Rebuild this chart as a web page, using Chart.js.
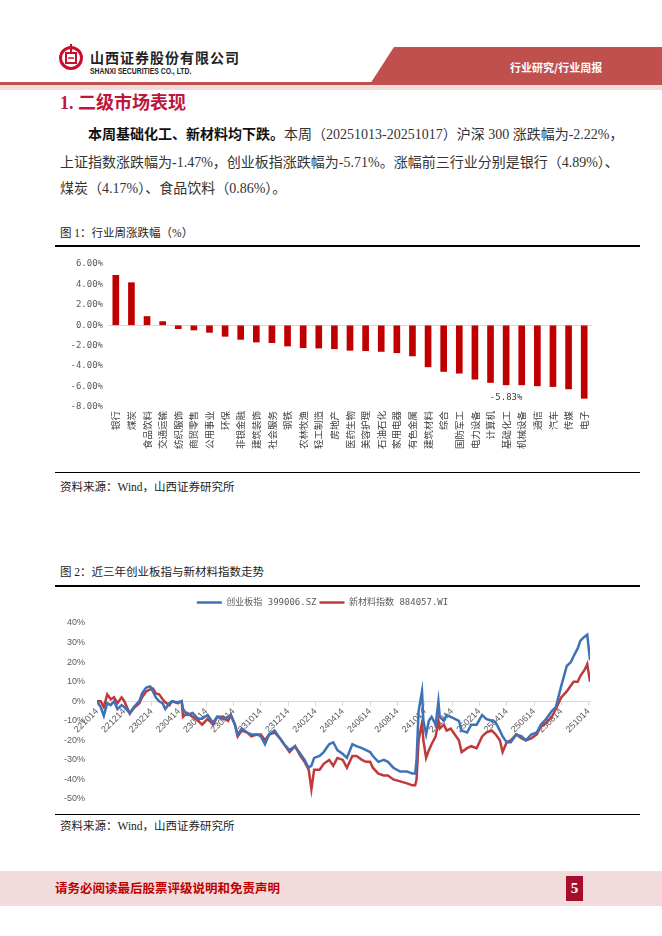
<!DOCTYPE html>
<html>
<head>
<meta charset="utf-8">
<script src="https://cdn.jsdelivr.net/npm/chart.js@4.4.1/dist/chart.umd.min.js"></script>
<style>
body{margin:0;width:662px;height:936px;position:relative;background:#fff;overflow:hidden;
  font-family:"Liberation Serif","Noto Sans CJK SC",serif;color:#222}
.abs{position:absolute;white-space:nowrap}
.para{font-size:14px;line-height:18px;color:#333}
.cap{font-size:11.5px;line-height:14px;color:#222}
.rule{position:absolute;left:55px;width:585px;background:#000}
canvas{position:absolute}
</style>
</head>
<body>

<!-- header -->
<svg class="abs" style="left:0;top:0" width="662" height="95">
  <polygon points="370,84 394,47 662,47 662,84" fill="#c0504d"/>
  <rect x="0" y="82" width="662" height="3" fill="#c0504d"/>
  <rect x="0" y="85" width="662" height="5" fill="#f2dcdb"/>
  <circle cx="71" cy="58" r="10.5" fill="none" stroke="#c8102e" stroke-width="3"/>
  <rect x="66" y="53" width="10" height="10" fill="none" stroke="#c8102e" stroke-width="2"/>
  <line x1="71" y1="44" x2="71" y2="53" stroke="#c8102e" stroke-width="2"/>
  <line x1="68" y1="58" x2="74" y2="58" stroke="#c8102e" stroke-width="1.5"/>
</svg>
<div class="abs" style="left:90px;top:49px;font:bold 14px/16px 'Noto Sans CJK SC';letter-spacing:1px;color:#222">山西证券股份有限公司</div>
<div class="abs" style="left:90px;top:66px;font:bold 9px/10px 'Liberation Sans';transform:scaleX(0.76);transform-origin:left;color:#222">SHANXI SECURITIES CO., LTD.</div>
<div class="abs" style="left:510px;top:59px;font:bold 11px/16px 'Noto Sans CJK SC';color:#fff">行业研究/行业周报</div>

<!-- section text -->
<div class="abs" style="left:60px;top:92px;font-size:18px;line-height:22px;font-weight:bold;color:#c0143c;font-family:'Liberation Serif','Noto Sans CJK SC'">1. 二级市场表现</div>
<div class="abs para" style="left:88px;top:126px"><b style="color:#111">本周基础化工、新材料均下跌。</b>本周（20251013-20251017）沪深 300 涨跌幅为-2.22%，</div>
<div class="abs para" style="left:60px;top:154px">上证指数涨跌幅为-1.47%，创业板指涨跌幅为-5.71%。涨幅前三行业分别是银行（4.89%）、</div>
<div class="abs para" style="left:60px;top:180px">煤炭（4.17%）、食品饮料（0.86%）。</div>

<!-- figure 1 -->
<div class="abs cap" style="left:60px;top:226px">图 1：行业周涨跌幅（%）</div>
<div class="rule" style="top:245px;height:1.5px"></div>
<canvas id="barChart" width="585" height="222" style="left:55px;top:250px"></canvas>
<div class="rule" style="top:472px;height:1px"></div>
<div class="abs cap" style="left:60px;top:480px">资料来源：Wind，山西证券研究所</div>

<!-- figure 2 -->
<div class="abs cap" style="left:60px;top:565px">图 2：近三年创业板指与新材料指数走势</div>
<div class="rule" style="top:585px;height:1.5px"></div>
<canvas id="lineChart" width="585" height="228" style="left:55px;top:584px"></canvas>
<div class="rule" style="top:814px;height:1px"></div>
<div class="abs cap" style="left:60px;top:819px">资料来源：Wind，山西证券研究所</div>

<!-- footer -->
<div class="abs" style="left:0;top:871px;width:662px;height:35px;background:#f2dcdb"></div>
<div class="abs" style="left:55px;top:880px;font:bold 12.5px/16px 'Noto Sans CJK SC';color:#c00000">请务必阅读最后股票评级说明和免责声明</div>
<div class="abs" style="left:566px;top:876px;width:17px;height:25px;background:#a50f2d;color:#fff;font:bold 15px/25px 'Liberation Serif';text-align:center">5</div>

<script>
// ---- figure 1 data ----
const industries = ['银行','煤炭','食品饮料','交通运输','纺织服饰','商贸零售','公用事业','环保','非银金融','建筑装饰',
  '社会服务','钢铁','农林牧渔','轻工制造','房地产','医药生物','美容护理','石油石化','家用电器','有色金属',
  '建筑材料','综合','国防军工','电力设备','计算机','基础化工','机械设备','通信','汽车','传媒','电子'];
const weeklyChange = [4.89, 4.17, 0.86, 0.36, -0.33, -0.46, -0.69, -1.08, -1.38, -1.64,
  -1.70, -2.03, -2.20, -2.23, -2.30, -2.45, -2.49, -2.56, -2.69, -3.00,
  -4.07, -4.52, -4.69, -5.28, -5.60, -5.83, -5.83, -5.93, -6.00, -6.23, -7.15];
const labelledIndustry = '基础化工';

// ---- figure 2 data (months since 2022-10-14, % change) ----
const xTickLabels = ['221014','221214','230214','230414','230614','230814','231014','231214','240214','240414',
  '240614','240814','241014','241214','250214','250414','250614','250814','251014'];
const months = [0, 0.27, 0.5, 0.75, 1.0, 1.25, 1.5, 1.8, 2.0, 2.4,
  2.7, 3.1, 3.3, 3.6, 3.9, 4.1, 4.3, 4.55, 4.8, 5.0,
  5.3, 5.5, 5.9, 6.2, 6.3, 6.6, 7.0, 7.4, 7.7, 8.1,
  8.5, 8.8, 9.2, 9.6, 9.8, 10.1, 10.3, 10.6, 11.0, 11.3,
  11.7, 12.0, 12.3, 12.6, 13.0, 13.4, 13.7, 14.1, 14.5, 14.9,
  15.2, 15.5, 15.7, 15.9, 16.3, 16.6, 17.0, 17.3, 17.6, 18.0,
  18.3, 18.7, 19.0, 19.4, 19.7, 20.0, 20.2, 20.6, 21.0, 21.3,
  21.7, 22.2, 22.7, 23.1, 23.3, 23.4, 23.55, 23.8, 23.9, 24.1,
  24.3, 24.5, 24.8, 25.0, 25.1, 25.4, 25.6, 25.9, 26.2, 26.5,
  26.7, 27.1, 27.4, 27.8, 28.2, 28.5, 28.9, 29.2, 29.5, 29.7,
  30.0, 30.3, 30.7, 31.1, 31.4, 31.8, 32.2, 32.5, 32.9, 33.3,
  33.6, 34.0, 34.4, 34.7, 34.9, 35.2, 35.4, 35.7, 35.9, 36.1];
const cybIndex = [0, -3, -7.5, -1, -2, 0, -4, -2, -3, -6,
  -3, 0, 4, 7, 7.5, 5, 2, 0, -1, -4,
  -1, 0, -0.5, 0, -4, -7, -6, -9, -9, -7,
  -11, -8, -9, -8, -7, -12, -17, -14, -16, -17,
  -17, -18, -22, -17, -15, -19, -22, -25, -23, -27,
  -30, -34, -33, -29, -28, -26, -22, -21, -25, -27,
  -29, -22, -23, -24, -25, -26, -28, -31, -30, -31,
  -34, -36, -36, -37, -37, -30, -5, 5, -10, -17,
  -10, -8, -12, 0, -8, -10, -7, -8, -9, -10,
  -15, -16, -12, -12, -7, -9, -10, -11, -15, -18,
  -21, -21, -17, -18, -20, -17, -16, -12, -9, -5,
  -3, 8, 18, 20, 23, 27, 31, 33, 34, 21];
const newMaterialIndex = [0, 0, -3, 3.5, 1, 2, -1, 2, 0, -6.4,
  -3.5, -1, 2, 5, 6, 6.5, 4, 3.5, 1, -0.5,
  -2, 0, -1, 0, -8, -6, -8, -10, -12, -9,
  -12, -8, -8, -10, -7, -12, -18, -15, -16, -18,
  -17, -17, -20, -17, -16, -19, -22, -26, -23, -28,
  -31, -35, -45, -35, -35, -32, -30, -33, -29, -30,
  -34, -28, -28, -30, -31, -31, -34, -37, -38, -38,
  -40, -41, -42, -43, -43, -40, -20, -11, -20, -29,
  -25, -22, -18, -10, -14, -12, -15, -14, -17, -20,
  -26, -24, -23, -24, -18, -16, -15, -17, -20, -26,
  -21, -20, -17, -19, -20, -19, -17, -13, -11, -8,
  -4, 2, 5, 8, 10, 10, 13, 16, 19, 10];

const monoFont = "'DejaVu Sans Mono', 'Noto Sans CJK SC'";
const cjkFont = "'Noto Sans CJK SC'";

// label under one bar
const barLabel = {
  id: 'barLabel',
  afterDatasetsDraw(chart) {
    const i = industries.indexOf(labelledIndustry);
    const bar = chart.getDatasetMeta(0).data[i];
    const ctx = chart.ctx;
    ctx.save();
    ctx.font = '9px ' + monoFont;
    ctx.fillStyle = '#404040';
    ctx.textAlign = 'center';
    ctx.textBaseline = 'middle';
    ctx.fillText(weeklyChange[i].toFixed(2) + '%', bar.x, bar.y + 13);
    ctx.restore();
  }
};

new Chart(document.getElementById('barChart'), {
  type: 'bar',
  data: {
    labels: industries,
    datasets: [{ data: weeklyChange, backgroundColor: '#c00000', barThickness: 6 }]
  },
  options: {
    responsive: false,
    animation: false,
    layout: { padding: { top: 14, right: 48, left: 0, bottom: 0 } },
    plugins: { legend: { display: false }, tooltip: { enabled: false } },
    scales: {
      x: {
        grid: { display: false, drawTicks: false },
        border: { display: false },
        ticks: { autoSkip: false, minRotation: 90, maxRotation: 90, padding: 4,
          font: { size: 9.5, family: cjkFont }, color: '#404040' },
        afterFit: s => { s.height = 65; }
      },
      y: {
        min: -8, max: 6,
        grid: { color: c => c.tick.value === 0 ? '#d9d9d9' : 'rgba(0,0,0,0)', drawTicks: false },
        border: { display: false },
        ticks: { stepSize: 2, padding: 5, callback: v => v.toFixed(2) + '%',
          font: { size: 9, family: monoFont }, color: '#595959' },
        afterFit: s => { s.width = 53; }
      }
    }
  },
  plugins: [barLabel]
});

// extra room under legend
const legendGap = {
  id: 'legendGap',
  beforeLayout(chart) {
    const lg = chart.legend;
    if (lg && !lg._gapWrapped) {
      const fit = lg.fit;
      lg.fit = function () { fit.call(this); this.height += 6; };
      lg._gapWrapped = true;
    }
  }
};

new Chart(document.getElementById('lineChart'), {
  type: 'line',
  data: {
    datasets: [
      { label: '创业板指 399006.SZ', data: months.map((m, i) => ({ x: m, y: cybIndex[i] })),
        borderColor: '#3d72b8', backgroundColor: '#3d72b8', borderWidth: 2.5, pointRadius: 0 },
      { label: '新材料指数 884057.WI', data: months.map((m, i) => ({ x: m, y: newMaterialIndex[i] })),
        borderColor: '#c0393b', backgroundColor: '#c0393b', borderWidth: 2.5, pointRadius: 0 }
    ]
  },
  options: {
    responsive: false,
    animation: false,
    layout: { padding: { top: 11, right: 50, left: 0, bottom: 13 } },
    plugins: {
      tooltip: { enabled: false },
      legend: {
        labels: { usePointStyle: true, pointStyle: 'line', pointStyleWidth: 25, padding: 3,
          font: { size: 9, family: monoFont }, color: '#595959' }
      }
    },
    scales: {
      x: {
        type: 'linear',
        position: { y: 0 },
        min: 0, max: 36.1,
        afterBuildTicks: s => { s.ticks = xTickLabels.map((t, i) => ({ value: i * 2 })); },
        grid: { drawOnChartArea: false, drawTicks: true, tickLength: 4, color: '#d9d9d9' },
        border: { color: '#d9d9d9' },
        ticks: { autoSkip: false, minRotation: 45, maxRotation: 45, padding: 1,
          callback: v => xTickLabels[Math.round(v / 2)],
          font: { size: 9, family: "'Liberation Sans'" }, color: '#595959' }
      },
      y: {
        min: -50, max: 40,
        grid: { display: false },
        border: { display: false },
        ticks: { stepSize: 10, padding: 4, callback: v => v + '%',
          font: { size: 9, family: "'Liberation Sans'" }, color: '#595959' },
        afterFit: s => { s.width = 42; }
      }
    }
  },
  plugins: [legendGap]
});
</script>
</body>
</html>
